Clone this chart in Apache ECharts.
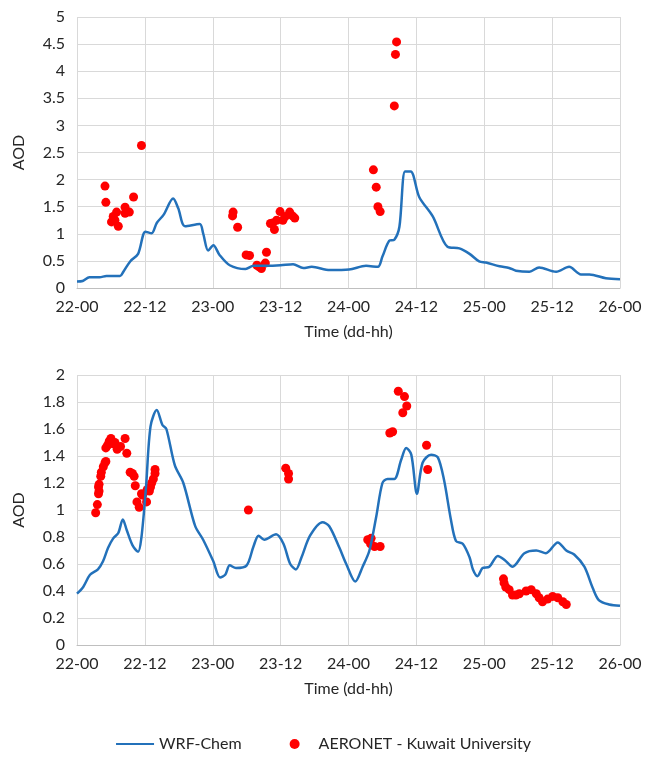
<!DOCTYPE html>
<html>
<head>
<meta charset="utf-8">
<script src="https://cdn.jsdelivr.net/npm/echarts@6/dist/echarts.min.js"></script>
<style>
  html, body { margin: 0; padding: 0; background: #fff; }
  #chart { width: 646px; height: 760px; }
</style>
</head>
<body>
<div id="chart"></div>
<script>
// x axis is hours since 22-00
const tickLabels = ['22-00', '22-12', '23-00', '23-12', '24-00', '24-12', '25-00', '25-12', '26-00'];

// top panel - WRF-Chem
const topModelHours = [0, 1, 2.2, 4, 5.2, 7.6, 8.2, 9.4, 10.8, 12.1, 13.2, 14.1, 15.3, 17, 17.9, 19.1, 21.7, 22.3, 23.2, 24.1,
  25.2, 27, 29.8, 31.2, 33.5, 36, 38.2, 40, 41.5, 44.7, 48.1, 51.1, 53.2, 54, 55.2, 56.1, 57, 58, 59, 60.5,
  62.9, 65.5, 67.6, 69.4, 71.1, 72.3, 74.7, 76.4, 77.6, 80, 81.7, 84.7, 87, 89.1, 90.6, 93.5, 96];
const topModelAOD = [0.12, 0.13, 0.2, 0.2, 0.22, 0.22, 0.3, 0.49, 0.63, 1.04, 1.01, 1.2, 1.35, 1.65, 1.47, 1.14, 1.18, 1.01, 0.69, 0.79,
  0.61, 0.42, 0.35, 0.41, 0.41, 0.42, 0.44, 0.37, 0.39, 0.33, 0.34, 0.41, 0.39, 0.58, 0.87, 0.89, 1.13, 2.15, 2.15, 1.68,
  1.32, 0.76, 0.73, 0.63, 0.49, 0.47, 0.4, 0.37, 0.32, 0.3, 0.38, 0.3, 0.39, 0.25, 0.25, 0.18, 0.16];

// top panel - AERONET
const topObsHours = [4.95, 5.1, 6.1, 6.4, 6.7, 7.0, 7.3, 8.5, 8.5, 9.25, 10.0, 11.4,
  27.5, 27.6, 28.4, 29.9, 30.5, 31.8, 32.2, 32.6, 33.3, 33.5, 34.2, 34.6, 34.9, 35.3, 35.9, 36.4, 36.8, 37.6, 38.1, 38.5,
  52.4, 52.9, 53.2, 53.6, 56.1, 56.3, 56.5];
const topObsAOD = [1.88, 1.58, 1.22, 1.32, 1.25, 1.40, 1.14, 1.49, 1.38, 1.40, 1.68, 2.63,
  1.33, 1.40, 1.12, 0.61, 0.60, 0.42, 0.39, 0.36, 0.46, 0.66, 1.19, 1.2, 1.08, 1.25, 1.41, 1.25, 1.32, 1.40, 1.33, 1.29,
  2.18, 1.86, 1.50, 1.41, 3.36, 4.31, 4.54];

// bottom panel - WRF-Chem
const botModelHours = [0, 1.1, 2.3, 3.7, 4.6, 5.5, 6.4, 7.3, 8.1, 8.8, 9.8, 10.8, 11.4, 12.2, 13.0, 14.1, 15.1, 15.8, 17.3, 18.8,
  20.9, 22.3, 24.1, 25.3, 26.2, 27, 28.1, 30, 31.2, 32.1, 33.1, 35.2, 36.5, 37.7, 38.7, 39.7, 41.2, 43.4, 44.6, 46.4,
  47.6, 49.2, 50.5, 51.7, 52.9, 54.0, 54.9, 56.1, 57.3, 58.2, 59.1, 60.1, 61.1, 62.6, 63.8, 64.9, 66.1, 67, 68.2, 69.4,
  70, 70.8, 71.7, 72.9, 74.4, 75.6, 77.0, 79.1, 81.2, 82.9, 85.0, 86.5, 87.9, 89.7, 91.2, 92.3, 94.1, 96];
const botModelAOD = [0.38, 0.43, 0.52, 0.56, 0.62, 0.72, 0.79, 0.83, 0.93, 0.85, 0.74, 0.69, 0.80, 1.17, 1.62, 1.74, 1.63, 1.60, 1.33, 1.20,
  0.88, 0.78, 0.62, 0.50, 0.52, 0.59, 0.57, 0.59, 0.73, 0.81, 0.78, 0.82, 0.75, 0.60, 0.56, 0.65, 0.81, 0.91, 0.88, 0.72,
  0.60, 0.47, 0.58, 0.70, 0.95, 1.20, 1.23, 1.23, 1.37, 1.46, 1.41, 1.12, 1.35, 1.41, 1.39, 1.22, 0.93, 0.77, 0.75, 0.65,
  0.56, 0.51, 0.57, 0.58, 0.66, 0.63, 0.58, 0.68, 0.70, 0.68, 0.76, 0.70, 0.67, 0.58, 0.42, 0.33, 0.30, 0.29];

// bottom panel - AERONET
const botObsHours = [3.3, 3.6, 3.8, 3.8, 3.9, 3.9, 4.2, 4.3, 4.65, 4.95, 5.1, 5.1, 5.4, 5.7, 6.0, 6.4, 6.7, 7.1, 7.7, 8.5,
  8.8, 9.4, 9.8, 10.1, 10.3, 10.6, 11.0, 11.4, 11.6, 12.3, 12.4, 12.8, 13.0, 13.2, 13.5, 13.8, 13.8,
  30.3, 36.9, 37.4, 37.4,
  51.4, 52.0, 51.9, 52.6, 53.6, 55.3, 55.8, 56.8, 57.9, 58.3, 57.6, 61.8, 62.0,
  75.4, 75.5, 75.8, 76.4, 77.0, 77.6, 78.2, 79.4, 80.3, 81.2, 81.7, 82.3, 83.2, 84.1, 85.0, 85.9, 86.5];
const botObsAOD = [0.98, 1.04, 1.12, 1.17, 1.19, 1.14, 1.25, 1.28, 1.32, 1.35, 1.36, 1.46, 1.48, 1.51, 1.53, 1.49, 1.50, 1.45, 1.47, 1.53,
  1.42, 1.28, 1.27, 1.25, 1.18, 1.06, 1.02, 1.12, 1.11, 1.06, 1.15, 1.14, 1.17, 1.20, 1.23, 1.30, 1.27,
  1.00, 1.31, 1.27, 1.23,
  0.78, 0.79, 0.75, 0.73, 0.73, 1.57, 1.58, 1.88, 1.84, 1.77, 1.72, 1.48, 1.30,
  0.49, 0.46, 0.43, 0.41, 0.37, 0.37, 0.38, 0.40, 0.41, 0.38, 0.35, 0.32, 0.34, 0.36, 0.35, 0.32, 0.30];

const zip = (xs, ys) => xs.map((x, i) => [x, ys[i]]);

const FONT = 'Lato';
const TXT = '#262626';
const BLUE = '#2371BA';
const RED = '#FF0000';

function xAxisFor(gridIndex) {
  return {
    type: 'value', gridIndex: gridIndex, min: 0, max: 96, interval: 12,
    name: 'Time (dd-hh)', nameLocation: 'middle', nameGap: 36,
    nameTextStyle: { fontFamily: FONT, fontSize: 16, color: TXT },
    axisLine: { lineStyle: { color: '#bfbfbf' } },
    axisTick: { show: false },
    axisLabel: { fontFamily: FONT, fontSize: 16, color: TXT, margin: 11,
      formatter: v => tickLabels[Math.round(v / 12)] },
    splitLine: { show: true, lineStyle: { color: '#d9d9d9' } }
  };
}

function yAxisFor(gridIndex, max, step) {
  return {
    type: 'value', gridIndex: gridIndex, min: 0, max: max, interval: step,
    name: 'AOD', nameLocation: 'middle', nameGap: 50,
    nameTextStyle: { fontFamily: FONT, fontSize: 16, color: TXT },
    axisLine: { show: false },
    axisTick: { show: false },
    axisLabel: { fontFamily: FONT, fontSize: 16, color: TXT, margin: 12 },
    splitLine: { lineStyle: { color: '#d9d9d9' } }
  };
}

const chart = echarts.init(document.getElementById('chart'));
chart.setOption({
  animation: false,
  backgroundColor: '#fff',
  grid: [
    { left: 77, right: 26, top: 17, height: 271 },
    { left: 77, right: 26, top: 375, height: 270 }
  ],
  xAxis: [xAxisFor(0), xAxisFor(1)],
  yAxis: [yAxisFor(0, 5, 0.5), yAxisFor(1, 2, 0.2)],
  legend: {
    bottom: 3, left: 'center', itemGap: 48, itemWidth: 38, itemHeight: 10,
    textStyle: { fontFamily: FONT, fontSize: 16, color: TXT },
    data: [
      { name: 'WRF-Chem', itemStyle: { opacity: 0 } },
      { name: 'AERONET - Kuwait University', icon: 'circle' }
    ]
  },
  series: [
    { name: 'WRF-Chem', type: 'line', xAxisIndex: 0, yAxisIndex: 0, data: zip(topModelHours, topModelAOD),
      smooth: 0.3, symbol: 'none', lineStyle: { color: BLUE, width: 2.5 }, itemStyle: { color: BLUE } },
    { name: 'AERONET - Kuwait University', type: 'scatter', xAxisIndex: 0, yAxisIndex: 0, data: zip(topObsHours, topObsAOD),
      symbolSize: 9, itemStyle: { color: RED, opacity: 1 } },
    { name: 'WRF-Chem', type: 'line', xAxisIndex: 1, yAxisIndex: 1, data: zip(botModelHours, botModelAOD),
      smooth: 0.3, symbol: 'none', lineStyle: { color: BLUE, width: 2.5 }, itemStyle: { color: BLUE } },
    { name: 'AERONET - Kuwait University', type: 'scatter', xAxisIndex: 1, yAxisIndex: 1, data: zip(botObsHours, botObsAOD),
      symbolSize: 9, itemStyle: { color: RED, opacity: 1 } }
  ]
});
</script>
</body>
</html>
